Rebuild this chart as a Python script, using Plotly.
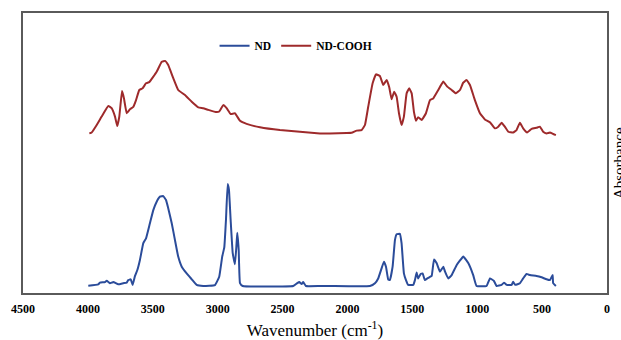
import plotly.graph_objects as go

# ND-COOH spectrum (red) - wavenumber (cm-1) and absorbance (a.u.)
cooh_wn = [3989, 3971, 3932, 3894, 3843, 3817, 3791, 3774, 3758, 3737, 3722, 3701, 3676, 3650, 3629,
           3604, 3578, 3552, 3527, 3470, 3431, 3406, 3381, 3342, 3304, 3252, 3200, 3149, 3111, 3072,
           3008, 2988, 2957, 2931, 2900, 2867, 2828, 2777, 2674, 2520, 2212, 2135, 2006, 1968, 1929,
           1891, 1865, 1840, 1806, 1780, 1750, 1724, 1698, 1678, 1660, 1640, 1621, 1603, 1583, 1565,
           1544, 1524, 1505, 1488, 1472, 1455, 1428, 1395, 1364, 1339, 1300, 1262, 1231, 1197, 1164,
           1133, 1108, 1082, 1056, 1018, 979, 941, 902, 864, 838, 812, 787, 761, 723, 697,
           671, 646, 615, 581, 543, 517, 492, 466, 440, 415, 394]
cooh_abs = [57.0, 57.3, 60.0, 63.0, 66.8, 66.0, 63.0, 59.6, 63.0, 72.1, 69.5, 64.2, 65.6, 66.5, 68.9,
            72.5, 73.1, 74.9, 75.3, 79.0, 82.6, 82.9, 81.4, 76.7, 72.5, 70.7, 68.3, 66.3, 66.0, 65.4,
            64.6, 64.8, 67.1, 66.0, 63.9, 64.2, 61.5, 60.4, 59.2, 58.2, 57.0, 57.0, 57.1, 57.2, 58.0,
            58.2, 60.0, 66.5, 74.9, 78.1, 77.5, 74.3, 76.1, 73.5, 69.2, 71.9, 70.1, 64.2, 60.0, 63.0,
            71.3, 73.1, 71.3, 64.8, 61.5, 62.8, 61.8, 64.2, 68.9, 69.5, 72.5, 75.5, 73.7, 72.5, 71.3,
            72.5, 75.1, 76.1, 74.3, 68.9, 64.2, 62.0, 61.0, 58.8, 59.4, 60.8, 59.4, 57.6, 57.3, 58.2,
            60.8, 58.8, 57.3, 58.6, 59.0, 59.4, 57.6, 57.0, 57.3, 56.8, 56.4]

# ND spectrum (blue)
nd_wn = [3997, 3920, 3907, 3868, 3855, 3830, 3804, 3766, 3727, 3701, 3689, 3670, 3655, 3637, 3619,
         3599, 3573, 3552, 3522, 3496, 3470, 3445, 3419, 3398, 3381, 3354, 3329, 3304, 3277, 3239,
         3200, 3162, 3111, 3021, 2988, 2965, 2949, 2936, 2923, 2913, 2900, 2884, 2867, 2856, 2849,
         2838, 2828, 2807, 2418, 2387, 2371, 2353, 2341, 2320, 2212, 2135, 1827, 1788, 1763, 1737,
         1719, 1703, 1686, 1673, 1652, 1634, 1621, 1596, 1583, 1565, 1549, 1532, 1493, 1480, 1467,
         1455, 1436, 1421, 1403, 1385, 1364, 1351, 1333, 1312, 1287, 1261, 1248, 1223, 1197, 1158,
         1107, 1068, 1031, 1005, 928, 902, 871, 851, 812, 794, 773, 735, 723, 707, 671,
         646, 620, 594, 543, 504, 466, 440, 419, 415, 394]
nd_abs = [2.6, 3.1, 3.7, 3.9, 4.4, 3.5, 3.9, 3.1, 3.5, 3.7, 4.6, 4.9, 2.9, 6.1, 8.2,
          11.8, 17.8, 19.5, 24.9, 29.6, 32.6, 34.4, 34.6, 33.2, 30.3, 24.9, 18.9, 13.0, 9.4, 7.0,
          4.9, 2.9, 2.5, 2.8, 5.8, 13.0, 16.3, 26.1, 38.9, 36.8, 26.1, 14.2, 10.3, 16.5, 21.5,
          15.4, 3.5, 2.5, 2.5, 3.5, 3.9, 3.2, 3.9, 2.5, 2.5, 2.5, 2.5, 3.5, 5.2, 8.8,
          11.2, 9.4, 4.9, 4.6, 9.4, 18.9, 21.0, 21.1, 17.8, 7.0, 4.6, 2.9, 2.9, 4.6, 7.3,
          5.2, 6.8, 7.0, 4.6, 5.2, 5.8, 6.1, 12.0, 10.6, 7.6, 9.4, 7.6, 5.2, 6.4, 10.0,
          13.0, 10.6, 6.4, 2.5, 2.5, 5.2, 4.3, 2.5, 2.9, 3.7, 2.9, 2.9, 4.0, 2.9, 3.5,
          5.2, 6.8, 6.4, 6.1, 5.6, 4.9, 4.6, 6.4, 3.5, 2.5]

x_ticks = [4500, 4000, 3500, 3000, 2500, 2000, 1500, 1000, 500, 0]

BLUE = "#2B4C9A"
RED = "#9E2A2B"
SERIF = "Liberation Serif, Times New Roman, serif"

fig = go.Figure()
fig.add_trace(go.Scatter(x=nd_wn, y=nd_abs, mode="lines", name="ND",
                         line=dict(color=BLUE, width=2, shape="spline", smoothing=0.3)))
fig.add_trace(go.Scatter(x=cooh_wn, y=cooh_abs, mode="lines", name="ND-COOH",
                         line=dict(color=RED, width=2, shape="spline", smoothing=0.3)))

fig.update_layout(
    width=621, height=340,
    margin=dict(l=23, r=14, t=13, b=47, autoexpand=False),
    paper_bgcolor="white", plot_bgcolor="white",
    font=dict(family=SERIF, color="black"),
    showlegend=True,
    legend=dict(orientation="h", x=0.328, y=0.935, xanchor="left", yanchor="top",
                font=dict(family=SERIF, size=11.5, color="black", weight="bold"),
                bgcolor="rgba(0,0,0,0)", itemwidth=30, tracegroupgap=0),
    xaxis=dict(range=[4500, 0], tickmode="array", tickvals=x_ticks,
               ticktext=[str(v) for v in x_ticks], automargin=False,
               showgrid=False, zeroline=False, showline=True, mirror=True,
               linecolor="#5a5a5a", linewidth=1.5, ticks="", ticklabelstandoff=4,
               tickfont=dict(family=SERIF, size=12, color="black", weight="bold"),
               title=dict(text="Wavenumber (cm<sup>-1</sup>)", standoff=16,
                          font=dict(family=SERIF, size=17, color="black"))),
    yaxis=dict(range=[0, 100], showgrid=False, zeroline=False, showline=True, mirror=True,
               automargin=False,
               linecolor="#5a5a5a", linewidth=1.5, showticklabels=False, ticks=""),
)

fig.add_annotation(text="Absorbance", xref="paper", yref="paper", x=1, y=0.464,
                   xanchor="center", yanchor="middle", textangle=-90, xshift=12,
                   showarrow=False, font=dict(family=SERIF, size=15, color="black"))

fig.write_html("out.html", config={"displayModeBar": False},
               post_script="document.body.style.margin='0';"
                           "document.body.style.overflow='hidden';")
